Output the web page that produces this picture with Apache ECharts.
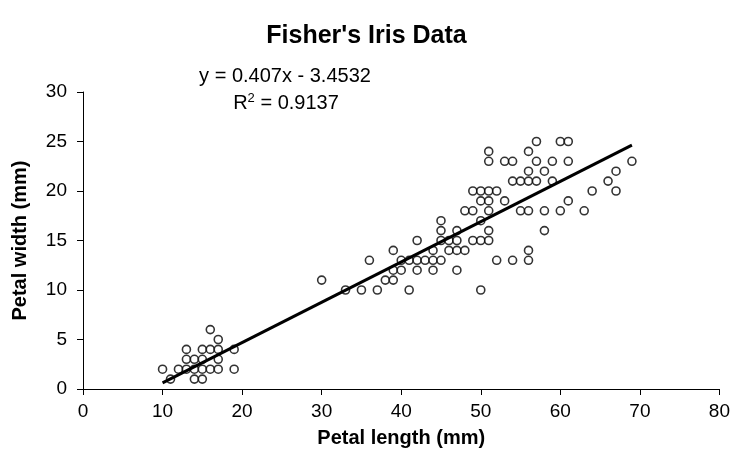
<!DOCTYPE html>
<html>
<head>
<meta charset="utf-8">
<script src="https://cdn.jsdelivr.net/npm/echarts@6/dist/echarts.min.js"></script>
<style>
  html, body { margin: 0; padding: 0; background: #fff; }
  #chart { width: 733px; height: 468px; }
</style>
</head>
<body>
<div id="chart"></div>
<script>
// Petal length (mm) and petal width (mm) of the measured flowers
const petalLength = [
  10, 11, 12, 13, 13, 13, 14, 14, 14, 15, 15, 15, 15, 16, 16, 16, 17, 17, 17, 17, 19, 19,
  30, 33, 35, 37, 41, 50, 36, 38, 39, 39, 40, 39,
  40, 41, 42, 43, 44, 45, 42, 44, 47,
  42, 44, 45, 45, 45, 46, 47, 48, 46, 47, 47, 49, 50, 51, 51, 50,
  52, 54, 56, 56, 58,
  57, 60, 61, 51, 56, 51, 53, 54, 57, 59, 61, 69,
  56, 58, 67, 54, 55, 56, 57, 59, 66,
  49, 50, 51, 52, 64, 67, 50, 51, 53, 61,
  48, 49, 51, 55, 56, 58, 60, 63
];
const petalWidth = [
  2, 1, 2, 4, 3, 2, 3, 2, 1, 4, 3, 2, 1, 6, 4, 2, 5, 4, 3, 2, 4, 2,
  11, 10, 10, 10, 10, 10, 13, 11, 11, 12, 12, 14,
  13, 13, 13, 13, 13, 13, 12, 12, 12,
  15, 14, 15, 16, 17, 14, 14, 14, 15, 15, 16, 15, 15, 15, 16, 17,
  13, 13, 13, 14, 16,
  25, 25, 25, 24, 24, 23, 23, 23, 23, 23, 23, 23,
  22, 22, 22, 21, 21, 21, 21, 21, 21,
  20, 20, 20, 20, 20, 20, 19, 19, 19, 19,
  18, 18, 18, 18, 18, 18, 18, 18
];

// Least-squares fit shown on the chart
const slope = 0.407;
const intercept = -3.4532;
const rSquared = 0.9137;

const xTicks = { min: 0, max: 80, step: 10 };
const yTicks = { min: 0, max: 30, step: 5 };

const points = petalLength.map((x, i) => [x, petalWidth[i]]);
const xLo = Math.min(...petalLength);
const xHi = Math.max(...petalLength);
const fitLine = [[xLo, slope * xLo + intercept], [xHi, slope * xHi + intercept]];

const font = 'Liberation Sans, Arial, sans-serif';
const chart = echarts.init(document.getElementById('chart'));
chart.setOption({
  animation: false,
  backgroundColor: '#fff',
  title: {
    text: "Fisher's Iris Data",
    left: 'center',
    top: 19,
    textStyle: { fontFamily: font, fontSize: 25, fontWeight: 'bold', color: '#000' }
  },
  grid: { left: 83, right: 13.5, top: 92, bottom: 79 },
  xAxis: {
    type: 'value',
    min: xTicks.min, max: xTicks.max, interval: xTicks.step,
    name: 'Petal length (mm)',
    nameLocation: 'middle',
    nameGap: 39,
    nameTextStyle: { fontFamily: font, fontSize: 20, fontWeight: 'bold', color: '#000' },
    axisLine: { lineStyle: { color: '#000', width: 1 } },
    axisTick: { inside: false, length: 6, lineStyle: { color: '#000' } },
    axisLabel: { fontFamily: font, fontSize: 19, color: '#000', margin: 13 },
    splitLine: { show: false }
  },
  yAxis: {
    type: 'value',
    min: yTicks.min, max: yTicks.max, interval: yTicks.step,
    name: 'Petal width (mm)',
    nameLocation: 'middle',
    nameGap: 53,
    nameTextStyle: { fontFamily: font, fontSize: 20, fontWeight: 'bold', color: '#000' },
    axisLine: { show: true, lineStyle: { color: '#000', width: 1 } },
    axisTick: { show: true, inside: false, length: 6, lineStyle: { color: '#000' } },
    axisLabel: { fontFamily: font, fontSize: 19, color: '#000', margin: 16 },
    splitLine: { show: false }
  },
  graphic: [
    {
      type: 'text', x: 285, y: 76,
      style: {
        text: 'y = ' + slope + 'x - ' + Math.abs(intercept),
        font: '20px ' + font, fill: '#000',
        textAlign: 'center', textVerticalAlign: 'middle'
      }
    },
    {
      type: 'text', x: 286, y: 103,
      style: {
        text: '{n|R}{s|2}{n| = ' + rSquared + '}',
        textAlign: 'center', textVerticalAlign: 'middle',
        rich: {
          n: { fontFamily: font, fontSize: 20, color: '#000' },
          s: { fontFamily: font, fontSize: 13, color: '#000', verticalAlign: 'top', padding: [0, 0, 9, 0] }
        }
      }
    }
  ],
  series: [
    {
      type: 'scatter',
      data: points,
      symbol: 'circle',
      symbolSize: 8,
      itemStyle: { color: '#fff', borderColor: '#000', borderWidth: 1.6 },
      z: 2
    },
    {
      type: 'line',
      data: fitLine,
      showSymbol: false,
      symbol: 'none',
      lineStyle: { color: '#000', width: 3 },
      z: 3
    }
  ]
});
</script>
</body>
</html>
